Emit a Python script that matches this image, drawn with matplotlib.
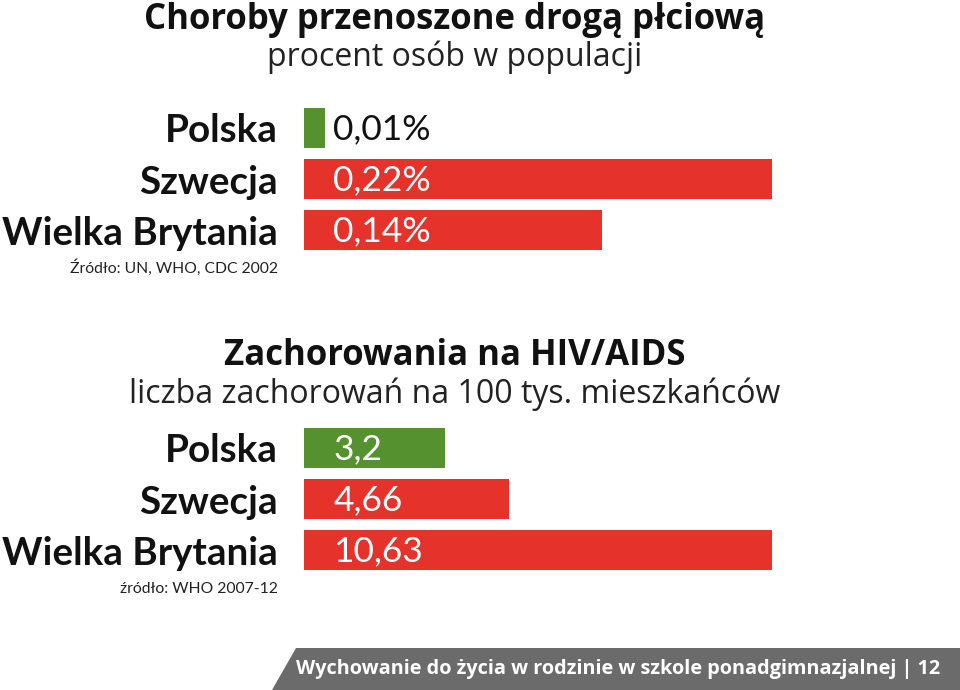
import matplotlib.pyplot as plt
from matplotlib.patches import Polygon

# data
countries = ['Polska', 'Szwecja', 'Wielka Brytania']
std_values = [0.01, 0.22, 0.14]
std_labels = ['0,01%', '0,22%', '0,14%']
hiv_values = [3.2, 4.66, 10.63]
hiv_labels = ['3,2', '4,66', '10,63']
bar_colors = ['#55922f', '#e5322b', '#e5322b']

W, H = 960, 690
fig = plt.figure(figsize=(W / 100, H / 100), dpi=100)
fig.patch.set_facecolor('white')


def fx(x):
    return x / W


def fy(y):
    return 1 - y / H


def bar_panel(top, bottom, values, labels, xmax):
    ax = fig.add_axes([fx(304), fy(bottom), fx(772 - 304), (bottom - top) / H])
    ypos = range(len(values))
    ax.barh(ypos, values, height=0.78, color=bar_colors)
    ax.set_xlim(0, xmax)
    ax.set_ylim(len(values) - 1 + 0.39, -0.39)
    ax.set_yticks(list(ypos))
    ax.set_yticklabels(countries, fontsize=27.8, fontweight='bold',
                       family='Lato', color='#111111')
    ax.tick_params(axis='y', length=0, pad=19)
    ax.set_xticks([])
    for s in ax.spines.values():
        s.set_visible(False)
    for i, (v, lab) in enumerate(zip(values, labels)):
        # tiny bar -> dark label beside it, otherwise white inside the bar
        col = '#111111' if v / xmax < 0.1 else 'white'
        ax.annotate(lab, xy=(0, i), xytext=(21, -1), textcoords='offset points',
                    va='center', ha='left', fontsize=25.5, family='Lato',
                    color=col)
    return ax


bar_panel(108, 250, std_values, std_labels, max(std_values))
bar_panel(428, 570, hiv_values, hiv_labels, max(hiv_values))

# titles
fig.text(fx(455), fy(29), 'Choroby przenoszone drogą płciową', ha='center',
         va='baseline', fontsize=25, fontweight='bold', family='Open Sans',
         color='#111111')
fig.text(fx(455), fy(66), 'procent osób w populacji', ha='center',
         va='baseline', fontsize=23, family='Open Sans', color='#222222')
fig.text(fx(455), fy(365), 'Zachorowania na HIV/AIDS', ha='center',
         va='baseline', fontsize=25, fontweight='bold', family='Open Sans',
         color='#111111')
fig.text(fx(455), fy(403), 'liczba zachorowań na 100 tys. mieszkańców',
         ha='center', va='baseline', fontsize=23, family='Open Sans',
         color='#222222')

# sources
fig.text(fx(278), fy(273), 'Źródło: UN, WHO, CDC 2002', ha='right',
         va='baseline', fontsize=11.3, family='Lato', color='#222222')
fig.text(fx(278), fy(593), 'źródło: WHO 2007-12', ha='right',
         va='baseline', fontsize=11.3, family='Lato', color='#222222')

# footer band
band = Polygon([(fx(272), fy(690)), (fx(296), fy(648)), (fx(960), fy(648)),
                (fx(960), fy(690))], closed=True, transform=fig.transFigure,
               facecolor='#6b6b6b', edgecolor='none')
fig.patches.append(band)
fig.text(fx(940), fy(669),
         'Wychowanie do życia w rodzinie w szkole ponadgimnazjalnej | 12',
         ha='right', va='center', fontsize=14.3, fontweight='bold',
         family='Open Sans', color='white')

fig.savefig('out.png', dpi=100)
